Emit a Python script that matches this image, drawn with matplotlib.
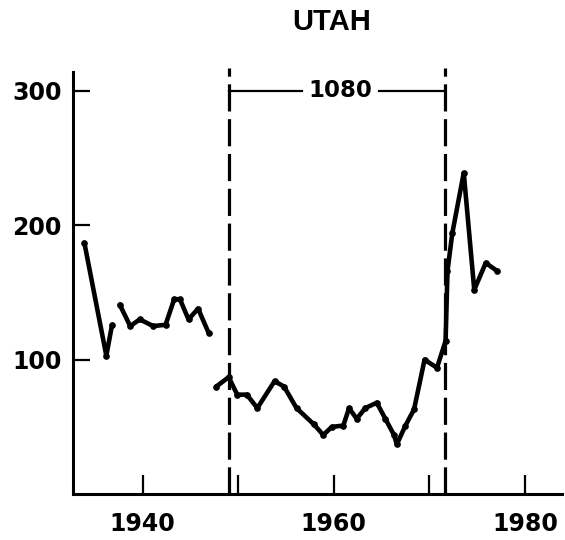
import matplotlib
matplotlib.use("Agg")
import matplotlib.pyplot as plt

# values (years are where the points sit on the axis)
early_years = [1933.9, 1936.2, 1936.8]
early_values = [187, 103, 126]

mid_years = [1937.6, 1938.7, 1939.7, 1941.1, 1942.4, 1943.3, 1943.9, 1944.8, 1945.8, 1946.9]
mid_values = [141, 125, 130, 125, 126, 145, 145, 130, 138, 120]

late_years = [1947.7, 1949.0, 1949.9, 1950.9, 1952.0, 1953.8, 1954.8, 1956.1, 1957.9,
              1958.9, 1959.8, 1961.0, 1961.6, 1962.4, 1963.3, 1964.5, 1965.4, 1966.3,
              1966.6, 1967.5, 1968.4, 1969.5, 1970.8, 1971.7, 1971.9, 1972.4, 1973.6,
              1974.7, 1975.9, 1977.1]
late_values = [80, 87, 74, 74, 64, 84, 80, 64, 52,
               44, 50, 51, 64, 56, 64, 68, 56, 44,
               37, 51, 63, 100, 94, 114, 166, 194, 239,
               152, 172, 166]

period_start, period_end = 1949.0, 1971.6
period_label = "1080"
title = "UTAH"

x_ticks = [1940, 1950, 1960, 1970, 1980]
x_tick_labels = ["1940", "", "1960", "", "1980"]
y_ticks = [100, 200, 300]


def main() -> None:
    fig = plt.figure(figsize=(5.65, 5.40), dpi=100)
    ax = fig.add_axes([0.129, 0.085, 0.866, 0.789])

    for xs, ys in [(early_years, early_values), (mid_years, mid_values), (late_years, late_values)]:
        ax.plot(xs, ys, color="black", linewidth=3.3, marker="o", markersize=3.8,
                solid_joinstyle="round", solid_capstyle="round", zorder=3)

    for x in (period_start, period_end):
        ax.axvline(x, color="black", linewidth=2.3, linestyle=(0, (8.5, 2.4)), zorder=2)

    mid = (period_start + period_end) / 2
    ax.plot([period_start, mid - 3.6], [300, 300], color="black", linewidth=1.6)
    ax.plot([mid + 4.4, period_end], [300, 300], color="black", linewidth=1.6)
    ax.text(mid + 0.4, 300, period_label, ha="center", va="center",
            fontsize=16.5, fontweight="bold", family="DejaVu Sans")

    ax.set_xlim(1932.7, 1983.9)
    ax.set_ylim(0, 317)
    ax.set_xticks(x_ticks)
    ax.set_xticklabels(x_tick_labels)
    ax.set_yticks(y_ticks)

    for side in ("top", "right"):
        ax.spines[side].set_visible(False)
    for side in ("left", "bottom"):
        ax.spines[side].set_linewidth(2.2)
    ax.spines["left"].set_bounds(0, 314)

    ax.tick_params(axis="x", direction="in", length=14, width=1.6, pad=13)
    ax.tick_params(axis="y", direction="in", length=12, width=1.6, pad=8)
    for label in ax.get_xticklabels() + ax.get_yticklabels():
        label.set_fontsize(17)
        label.set_fontweight("bold")
        label.set_family("DejaVu Sans")

    fig.text(332 / 565, 1 - 22 / 540, title, ha="center", va="center",
             fontsize=21, fontweight="bold", family="Liberation Sans")

    fig.savefig("out.png", dpi=100)
    plt.close(fig)


if __name__ == "__main__":
    main()
